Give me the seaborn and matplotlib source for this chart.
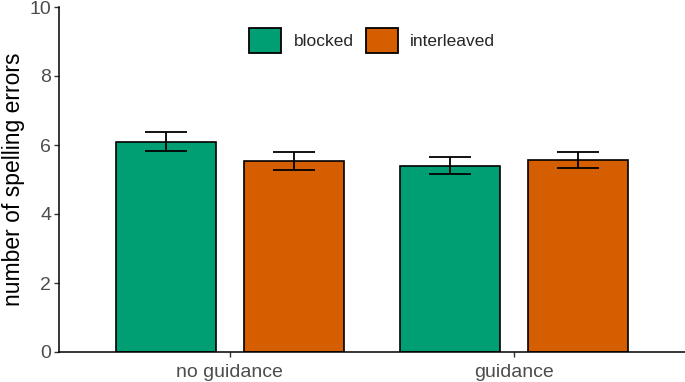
import numpy as np
import pandas as pd
import matplotlib
matplotlib.use("Agg")
import matplotlib.pyplot as plt
from matplotlib.patches import Patch
import seaborn as sns

conditions = ["no guidance", "guidance"]
schedules = ["blocked", "interleaved"]
blocked_mean = [6.10, 5.40]
interleaved_mean = [5.54, 5.56]
blocked_se = [0.27, 0.24]
interleaved_se = [0.27, 0.23]
colors = ["#009E73", "#D55E00"]
yticks = [0, 2, 4, 6, 8, 10]

sns.set_theme(style="white")
plt.rcParams['font.family'] = ['Liberation Sans', 'DejaVu Sans']

df = pd.DataFrame({
    "condition": conditions * 2,
    "schedule": [schedules[0]] * 2 + [schedules[1]] * 2,
    "errors": blocked_mean + interleaved_mean,
})

fig = plt.figure(figsize=(6.85, 3.82), dpi=100)
ax = fig.add_axes([59 / 685, 30 / 382, 626 / 685, 345 / 382])

sns.barplot(data=df, x="condition", y="errors", hue="schedule",
            order=conditions, hue_order=schedules, palette=colors,
            width=0.9, gap=0.222, edgecolor="black", linewidth=1.2,
            errorbar=None, saturation=1, ax=ax, legend=False)

for cont, se in zip(ax.containers, [blocked_se, interleaved_se]):
    xs = [p.get_x() + p.get_width() / 2 for p in cont]
    ys = [p.get_height() for p in cont]
    ax.errorbar(xs, ys, yerr=se, fmt='none', ecolor='black',
                elinewidth=1.3, capsize=15, capthick=1.3, zorder=5)

ax.set_xlim(-0.6, 1.6)
ax.set_ylim(0, 10)
ax.set_yticks(yticks)
for s in ["top", "right"]:
    ax.spines[s].set_visible(False)
for s in ["left", "bottom"]:
    ax.spines[s].set_color("black")
    ax.spines[s].set_linewidth(1.1)

ax.set_xlabel("")
ax.set_ylabel("number of spelling errors", fontsize=16.5, color="black",
              labelpad=3)
ax.tick_params(axis="both", labelsize=14, labelcolor="#4D4D4D", length=3.5,
               color="#333333", width=1, direction="out",
               bottom=True, left=True)
ax.tick_params(axis="x", pad=5)
ax.tick_params(axis="y", pad=2)

handles = [Patch(facecolor=c, edgecolor="black", linewidth=1.3) for c in colors]
ax.legend(handles, schedules, loc="center", bbox_to_anchor=(0.5, 0.903),
          ncol=2, frameon=False, fontsize=12.5, handlelength=1.85,
          handleheight=1.9, handletextpad=0.7, columnspacing=0.7)

fig.savefig("out.png", dpi=100)
